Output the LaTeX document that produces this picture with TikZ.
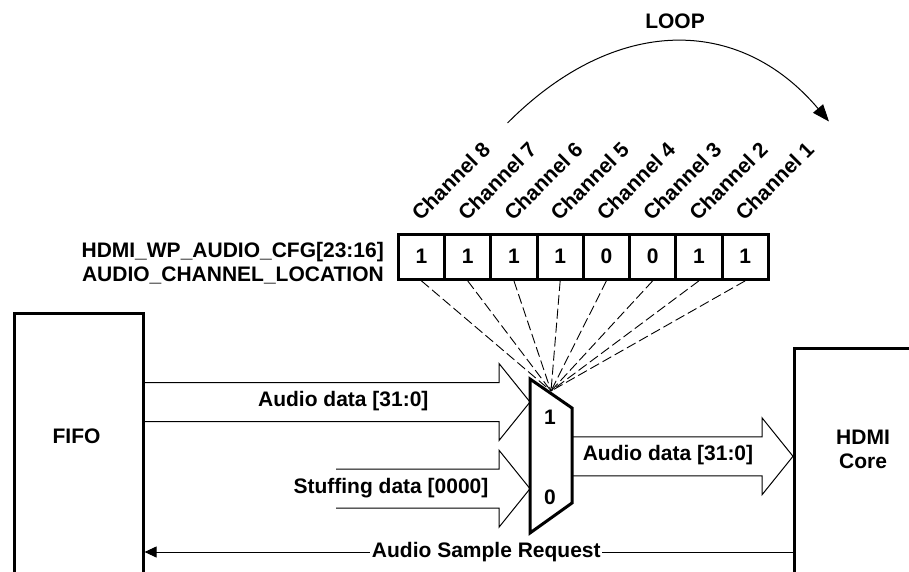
\documentclass[tikz,border=0pt]{standalone}
\usepackage{fontspec}
\setmainfont{Liberation Sans}
\usetikzlibrary{arrows.meta,calc}
\tikzset{
  lbl/.style={font=\fontsize{21}{24}\selectfont\bfseries, inner sep=0pt},
  thickbox/.style={draw, line width=3pt, line join=miter},
  cell/.style={thickbox, lbl, minimum width=46.25pt, minimum height=45.3pt},
  hollow/.style={draw, line width=1pt, line join=miter},
  selline/.style={draw, line width=0.9pt, dash pattern=on 10pt off 4pt},
  chan/.style={lbl, rotate=45, anchor=base west},
  thinline/.style={draw, line width=1pt},
}
\newcommand\hollowarrow[2]{%
  \draw[hollow] ($(#1)+(0,-19.5)$) -- ($(#2)+(-31,-19.5)$) -- ($(#2)+(-31,-38.5)$)
    -- (#2) -- ($(#2)+(-31,38.5)$) -- ($(#2)+(-31,19.5)$) -- ($(#1)+(0,19.5)$);}
\begin{document}
\begin{tikzpicture}[x=1pt,y=-1pt]
\useasboundingbox (0,0) rectangle (909,572);
\clip (0,0) rectangle (909,572);

% loop arrow
\node[lbl] (loop) at (675,21) {LOOP};
\coordinate (loopA) at (507.5,123);
\coordinate (loopB) at (829,121.5);
\draw[line width=1pt, -{Triangle[length=17pt,width=13pt]}] (loopA) .. controls (615,15) and (739,15) .. (loopB);

% register
\foreach \v [count=\i] in {1,1,1,1,0,0,1,1}
  \node[cell] (c\i) at ({398.3+46.25*(\i-0.5)},256.7) {\v};
\foreach \i in {1,...,8}{
  \pgfmathtruncatemacro\ch{9-\i}
  \node[chan] (ch\i) at ({398.3+46.25*(\i-0.5)-1},222) {Channel \ch};
}
\node[lbl, align=right, anchor=east] (reg) at (384,263.5) {HDMI\_WP\_AUDIO\_CFG[23:16]\\AUDIO\_CHANNEL\_LOCATION};

% blocks
\node[thickbox, anchor=north west, minimum width=128.2pt, minimum height=300pt, inner sep=0pt] (fifo) at (13.4,311.7) {};
\node[lbl] (fifot) at (76.5,436.7) {FIFO};
\node[thickbox, anchor=north west, minimum width=200pt, minimum height=300pt, inner sep=0pt] (hdmi) at (793,346.7) {};
\node[lbl, align=center] (hdmit) at (863,449) {HDMI\\Core};

% mux
\coordinate (mtl) at (530,379);
\coordinate (mtr) at (572,408);
\coordinate (mbr) at (572,503);
\coordinate (mbl) at (530,533);
\draw[thickbox] (mtl) -- (mtr) -- (mbr) -- (mbl) -- cycle;
\coordinate (sel) at (551,391);
\node[lbl] (m1) at (550,417) {1};
\node[lbl] (m0) at (550,497) {0};

% select lines
\foreach \i in {1,...,8}
  \draw[selline] (c\i.south) -- (sel);

% data arrows
\coordinate (ady) at (0,402);
\coordinate (a1s) at (fifo.east |- ady);
\coordinate (a1t) at (mtl |- ady);
\hollowarrow{a1s}{a1t}
\node[lbl] (a1l) at (343.3,401.5) {Audio data [31:0]};

\coordinate (sty) at (0,488.7);
\coordinate (s1s) at (336,488.7);
\coordinate (s1t) at (mtl |- sty);
\hollowarrow{s1s}{s1t}
\node[lbl] (s1l) at (391,488) {Stuffing data [0000]};

\coordinate (oy) at (0,456.3);
\coordinate (o1s) at (mtr |- oy);
\coordinate (o1t) at (hdmi.west |- oy);
\hollowarrow{o1s}{o1t}
\node[lbl] (o1l) at (668,455) {Audio data [31:0]};

% request
\coordinate (rqy) at (0,552);
\draw[thinline, -{Triangle[length=12pt,width=11pt]}] (hdmi.west |- rqy) -- node[lbl, fill=white, inner xsep=1.5pt, pos=0.473] (rql) {Audio Sample Request} (fifo.east |- rqy);
\end{tikzpicture}
\end{document}
